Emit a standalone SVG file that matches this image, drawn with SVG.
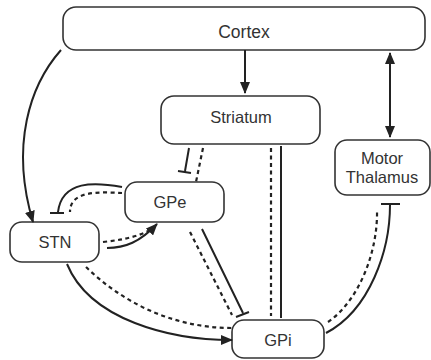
<svg xmlns="http://www.w3.org/2000/svg" width="431" height="360" viewBox="0 0 431 360">
<defs>
<marker id="arr" viewBox="0 0 12 10" refX="11" refY="5" markerWidth="12" markerHeight="10" markerUnits="userSpaceOnUse" orient="auto-start-reverse"><path d="M0,0 L12,5 L0,10 z" fill="#222"/></marker>
</defs>
<style>
.box{fill:#fff;stroke:#333;stroke-width:1.6}
.t{font-family:"Liberation Sans",Arial,sans-serif;font-size:16.5px;fill:#333;text-anchor:middle}
.s{fill:none;stroke:#222;stroke-width:2}
.d{fill:none;stroke:#222;stroke-width:2.2;stroke-dasharray:4,3.5}
</style>
<rect width="431" height="360" fill="#fff"/>
<g id="cortex"><rect class="box" x="63" y="7" width="362" height="43" rx="13"/><text class="t" x="244" y="38" style="font-size:17.5px">Cortex</text></g>
<g id="striatum"><rect class="box" x="161" y="96" width="159" height="48" rx="13"/><text class="t" x="241" y="123">Striatum</text></g>
<g id="thalamus"><rect class="box" x="335" y="140" width="95" height="55" rx="12"/><text class="t" x="382" y="164">Motor</text><text class="t" x="382" y="183">Thalamus</text></g>
<g id="gpe"><rect class="box" x="125" y="182" width="99" height="40" rx="12"/><text class="t" x="170" y="208">GPe</text></g>
<g id="stn"><rect class="box" x="10" y="222" width="89" height="40" rx="12"/><text class="t" x="55" y="248">STN</text></g>
<g id="gpi"><rect class="box" x="232" y="320" width="92" height="38" rx="12"/><text class="t" x="278" y="346">GPi</text></g>
<g id="connectors">
<path class="s" d="M245,50 V93" marker-end="url(#arr)"/>
<path class="s" d="M390,53 V137" marker-start="url(#arr)" marker-end="url(#arr)"/>
<path class="s" d="M61,50 C30,85 10,145 33,222" marker-end="url(#arr)"/>
<path class="s" d="M189,148 L185,171 M178,171 L191,173"/>
<path class="d" d="M203,148 L196,182"/>
<path class="d" d="M271,148 V316"/>
<path class="s" d="M281,146 V318"/>
<path class="s" d="M122,187 C95,182 62,180 58,212 M50,213 L64,213"/>
<path class="d" d="M122,193 C100,192 70,190 70,212"/>
<path class="d" d="M103,242 C120,240 135,238 150,230"/>
<path class="s" d="M107,248 C125,248 140,242 157,224" marker-end="url(#arr)"/>
<path class="s" d="M202,229 L243,313 M236,317 L249,312"/>
<path class="d" d="M190,232 L232,315"/>
<path class="s" d="M67,264 C90,320 170,340 232,340" marker-end="url(#arr)"/>
<path class="d" d="M86,267 C120,300 170,328 232,328"/>
<path class="s" d="M326,333 C370,310 390,250 390,205 M381,204 L400,204"/>
<path class="d" d="M328,322 C360,300 378,250 377,210"/>
</g>
</svg>
